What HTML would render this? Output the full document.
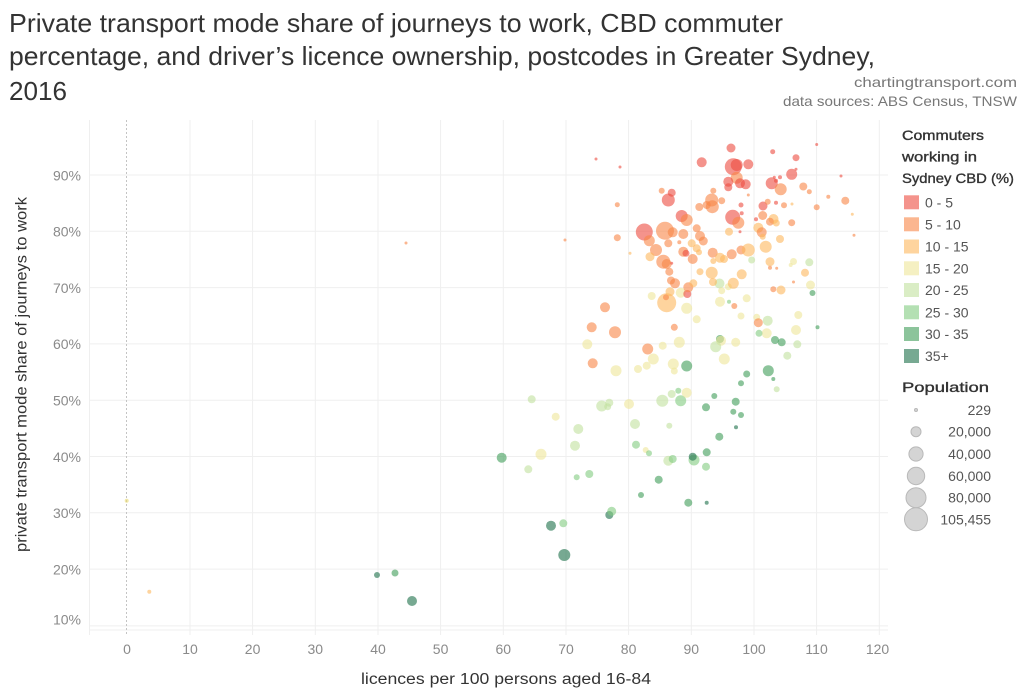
<!DOCTYPE html>
<html><head><meta charset="utf-8"><style>
html,body{margin:0;padding:0;background:#fff;}
svg{display:block;font-family:"Liberation Sans",sans-serif;}
.r{fill:#ec4b40}.o{fill:#f88646}.l{fill:#fdb85e}.y{fill:#efe69a}
.g1{fill:#c1e19e}.g2{fill:#82cb80}.g3{fill:#409c59}.g4{fill:#1c7049}
.pts circle,.sw{fill-opacity:.6}
.tk{fill:#8a8a8a;font-size:14px}
.lg{fill:#555;font-size:14px}
</style></head><body>
<svg width="1024" height="695" viewBox="0 0 1024 695" xmlns="http://www.w3.org/2000/svg">
<rect width="1024" height="695" fill="#fff"/>
<!-- title -->
<g fill="#333" font-size="26">
<text x="9" y="32" textLength="774" lengthAdjust="spacingAndGlyphs">Private transport mode share of journeys to work, CBD commuter</text>
<text x="9" y="65" textLength="866" lengthAdjust="spacingAndGlyphs">percentage, and driver’s licence ownership, postcodes in Greater Sydney,</text>
<text x="9" y="100" textLength="58" lengthAdjust="spacingAndGlyphs">2016</text>
</g>
<g fill="#777" font-size="14" text-anchor="end">
<text x="1017" y="87" textLength="163" lengthAdjust="spacingAndGlyphs">chartingtransport.com</text>
<text x="1017" y="106" textLength="234" lengthAdjust="spacingAndGlyphs">data sources: ABS Census, TNSW</text>
</g>
<!-- grid -->
<g stroke="#efefef" stroke-width="1" fill="none">
<line x1="89" y1="175" x2="888" y2="175"/>
<line x1="89" y1="231.3" x2="888" y2="231.3"/>
<line x1="89" y1="287.6" x2="888" y2="287.6"/>
<line x1="89" y1="343.9" x2="888" y2="343.9"/>
<line x1="89" y1="400.2" x2="888" y2="400.2"/>
<line x1="89" y1="456.5" x2="888" y2="456.5"/>
<line x1="89" y1="512.8" x2="888" y2="512.8"/>
<line x1="89" y1="569.1" x2="888" y2="569.1"/>
<line x1="89" y1="625.9" x2="888" y2="625.9"/>
<line x1="89" y1="630" x2="888" y2="630"/>
<line x1="89.5" y1="120" x2="89.5" y2="635"/>
<line x1="190" y1="120" x2="190" y2="635"/>
<line x1="252.6" y1="120" x2="252.6" y2="635"/>
<line x1="315.3" y1="120" x2="315.3" y2="635"/>
<line x1="378" y1="120" x2="378" y2="635"/>
<line x1="440.6" y1="120" x2="440.6" y2="635"/>
<line x1="503.3" y1="120" x2="503.3" y2="635"/>
<line x1="566" y1="120" x2="566" y2="635"/>
<line x1="628.6" y1="120" x2="628.6" y2="635"/>
<line x1="691.3" y1="120" x2="691.3" y2="635"/>
<line x1="754" y1="120" x2="754" y2="635"/>
<line x1="816.6" y1="120" x2="816.6" y2="635"/>
<line x1="879.3" y1="120" x2="879.3" y2="635"/>
</g>
<line x1="126.5" y1="120" x2="126.5" y2="635" stroke="#c4c4c4" stroke-width="1" stroke-dasharray="2,2"/>
<!-- y ticks -->
<g class="tk" text-anchor="end">
<text x="81" y="180.5">90%</text>
<text x="81" y="236.5">80%</text>
<text x="81" y="293">70%</text>
<text x="81" y="349">60%</text>
<text x="81" y="405.5">50%</text>
<text x="81" y="462">40%</text>
<text x="81" y="518">30%</text>
<text x="81" y="574.5">20%</text>
<text x="81" y="624.5">10%</text>
</g>
<!-- x ticks -->
<g class="tk" text-anchor="middle">
<text x="127" y="654">0</text>
<text x="190" y="654">10</text>
<text x="252.6" y="654">20</text>
<text x="315.3" y="654">30</text>
<text x="378" y="654">40</text>
<text x="440.6" y="654">50</text>
<text x="503.3" y="654">60</text>
<text x="566" y="654">70</text>
<text x="628.6" y="654">80</text>
<text x="691.3" y="654">90</text>
<text x="754" y="654">100</text>
<text x="816.6" y="654">110</text>
<text x="877.5" y="654">120</text>
</g>
<text x="361" y="684" fill="#333" font-size="15.5" textLength="290" lengthAdjust="spacingAndGlyphs">licences per 100 persons aged 16-84</text>
<text transform="translate(26.5,374.5) rotate(-90)" text-anchor="middle" fill="#333" font-size="15.5" textLength="355" lengthAdjust="spacingAndGlyphs">private transport mode share of journeys to work</text>
<!-- points -->
<g class="pts">
<circle cx="126.7" cy="500.7" r="2" class="y" style="fill:#e8d870"/>
<circle cx="149.3" cy="591.7" r="2" class="l"/>
<circle cx="406" cy="243" r="1.5" class="o"/>
<circle cx="377" cy="575" r="3" class="g4"/>
<circle cx="395" cy="573" r="3.5" class="g3"/>
<circle cx="412" cy="601" r="5" class="g4"/>
<circle cx="501.7" cy="457.7" r="5" class="g3"/>
<circle cx="528.3" cy="469.3" r="4" class="g1"/>
<circle cx="531.7" cy="399.3" r="4" class="g1"/>
<circle cx="541" cy="454.3" r="5.5" class="y"/>
<circle cx="555.7" cy="416.7" r="4" class="y"/>
<circle cx="551" cy="525.7" r="5" class="g4"/>
<circle cx="563.3" cy="523.3" r="4" class="g2"/>
<circle cx="564.3" cy="555" r="6" class="g4"/>
<circle cx="565" cy="240" r="1.5" class="o"/>
<circle cx="575" cy="445.7" r="5" class="g1"/>
<circle cx="578.3" cy="429" r="5" class="g1"/>
<circle cx="576.7" cy="477.3" r="3" class="g2"/>
<circle cx="589.3" cy="474" r="4" class="g2"/>
<circle cx="596" cy="159" r="1.5" class="r"/>
<circle cx="620" cy="167" r="1.5" class="r"/>
<circle cx="617.3" cy="204.7" r="2.5" class="o"/>
<circle cx="617.3" cy="237.7" r="3.5" class="o"/>
<circle cx="605" cy="307.3" r="5" class="o"/>
<circle cx="591.7" cy="327.3" r="5" class="o"/>
<circle cx="615" cy="332.3" r="6" class="o"/>
<circle cx="587.3" cy="344.3" r="5" class="y"/>
<circle cx="592.7" cy="363.3" r="5" class="o"/>
<circle cx="616" cy="370.7" r="5.5" class="y"/>
<circle cx="601.7" cy="406" r="5.5" class="g1"/>
<circle cx="609.3" cy="402.7" r="4" class="g1"/>
<circle cx="607.7" cy="406.7" r="3.5" class="g1"/>
<circle cx="629" cy="404" r="5" class="y"/>
<circle cx="609.3" cy="515" r="4" class="g4"/>
<circle cx="611.7" cy="511.3" r="4.5" class="g2"/>
<circle cx="635" cy="424" r="5" class="g1"/>
<circle cx="636" cy="444.7" r="4" class="g2"/>
<circle cx="641" cy="495" r="3" class="g3"/>
<circle cx="645.7" cy="450" r="3" class="y"/>
<circle cx="649" cy="453.3" r="3" class="g2"/>
<circle cx="646.7" cy="365.7" r="4" class="y"/>
<circle cx="638" cy="369" r="4" class="y"/>
<circle cx="653.3" cy="359" r="5.5" class="y"/>
<circle cx="647.7" cy="349" r="5.5" class="o"/>
<circle cx="662.7" cy="345.7" r="4" class="y"/>
<circle cx="674.3" cy="327.3" r="3.5" class="o"/>
<circle cx="679.3" cy="342.3" r="5.5" class="y"/>
<circle cx="673.3" cy="364" r="5.5" class="y"/>
<circle cx="674.3" cy="371" r="3.5" class="y"/>
<circle cx="686.7" cy="366" r="5.5" class="g3"/>
<circle cx="696.7" cy="319.3" r="4" class="y"/>
<circle cx="686.7" cy="308.3" r="5.5" class="y"/>
<circle cx="666.7" cy="302.7" r="9.5" class="l"/>
<circle cx="666" cy="297.3" r="3" class="o"/>
<circle cx="651.7" cy="296" r="4" class="y"/>
<circle cx="670" cy="291.7" r="4.5" class="l"/>
<circle cx="680.7" cy="292.7" r="5" class="y"/>
<circle cx="687.3" cy="294" r="4" class="r"/>
<circle cx="688.3" cy="287.3" r="5" class="o"/>
<circle cx="693.3" cy="283.3" r="4" class="l"/>
<circle cx="675" cy="283.3" r="5" class="o"/>
<circle cx="671" cy="280.5" r="4" class="o"/>
<circle cx="700" cy="271.7" r="3.5" class="l"/>
<circle cx="711.7" cy="272.7" r="6" class="l"/>
<circle cx="719.5" cy="283.5" r="5" class="g1"/>
<circle cx="713" cy="282" r="4" class="l"/>
<circle cx="728.3" cy="286.7" r="3.5" class="y"/>
<circle cx="733.3" cy="283.3" r="5.5" class="l"/>
<circle cx="721.7" cy="290.7" r="3.5" class="y"/>
<circle cx="720" cy="301.7" r="5" class="y"/>
<circle cx="729" cy="301.7" r="2" class="g2"/>
<circle cx="734.3" cy="306" r="3" class="o"/>
<circle cx="746.7" cy="298.3" r="4" class="y"/>
<circle cx="741.7" cy="274.3" r="5" class="l"/>
<circle cx="741" cy="316" r="3.5" class="y"/>
<circle cx="756.7" cy="317.3" r="3.5" class="y"/>
<circle cx="758.3" cy="322.7" r="4.5" class="o"/>
<circle cx="767.7" cy="320.7" r="5" class="g1"/>
<circle cx="798.3" cy="315" r="4" class="y"/>
<circle cx="766.7" cy="333.3" r="5" class="y"/>
<circle cx="759" cy="333.3" r="3.5" class="g2"/>
<circle cx="796" cy="330" r="5" class="y"/>
<circle cx="817.5" cy="327.3" r="2" class="g3"/>
<circle cx="720" cy="339" r="4" class="g3"/>
<circle cx="721" cy="340.7" r="5" class="y"/>
<circle cx="715.7" cy="346.7" r="5.5" class="g1"/>
<circle cx="735.7" cy="342.3" r="4.5" class="y"/>
<circle cx="724.3" cy="359" r="5.5" class="y"/>
<circle cx="775" cy="340" r="4" class="g3"/>
<circle cx="781.7" cy="342.3" r="4" class="g3"/>
<circle cx="797.3" cy="344.3" r="4" class="g1"/>
<circle cx="787.3" cy="355.7" r="4" class="g1"/>
<circle cx="768.3" cy="370.7" r="5.5" class="g3"/>
<circle cx="773.3" cy="379" r="2" class="g3"/>
<circle cx="746.7" cy="374" r="3.5" class="g3"/>
<circle cx="741" cy="383.3" r="3" class="g3"/>
<circle cx="776.7" cy="389.3" r="3" class="g1"/>
<circle cx="662.3" cy="400.7" r="6" class="g1"/>
<circle cx="671.7" cy="394" r="4" class="g1"/>
<circle cx="678.3" cy="390.7" r="3" class="g2"/>
<circle cx="680.7" cy="400.7" r="5.5" class="g2"/>
<circle cx="686.7" cy="392.7" r="5" class="y"/>
<circle cx="714.3" cy="396" r="3" class="g3"/>
<circle cx="706" cy="407.3" r="4" class="g3"/>
<circle cx="735.7" cy="401.7" r="4" class="g3"/>
<circle cx="733.3" cy="411.7" r="3" class="g3"/>
<circle cx="741" cy="415" r="3" class="g3"/>
<circle cx="736" cy="427.3" r="2" class="g4"/>
<circle cx="719.3" cy="436.7" r="4" class="g3"/>
<circle cx="669.3" cy="425.7" r="3" class="g1"/>
<circle cx="668.3" cy="460.7" r="5" class="g1"/>
<circle cx="672.7" cy="459" r="4" class="g2"/>
<circle cx="694" cy="460" r="5.5" class="g2"/>
<circle cx="692.7" cy="456.7" r="4" class="g4"/>
<circle cx="706.7" cy="452.3" r="4" class="g3"/>
<circle cx="706" cy="466.7" r="4" class="g2"/>
<circle cx="658.7" cy="479.7" r="4" class="g3"/>
<circle cx="688.3" cy="502.7" r="4" class="g3"/>
<circle cx="706.7" cy="502.7" r="2" class="g4"/>
<circle cx="731" cy="148" r="4.5" class="r"/>
<circle cx="772.7" cy="151.7" r="2.5" class="r"/>
<circle cx="816.7" cy="144.5" r="1.5" class="r"/>
<circle cx="701.7" cy="162.3" r="5" class="r"/>
<circle cx="733.3" cy="166.7" r="8.5" class="r"/>
<circle cx="736.7" cy="165" r="6" class="r"/>
<circle cx="748.3" cy="164.3" r="5" class="r"/>
<circle cx="796" cy="157.7" r="3.5" class="r"/>
<circle cx="791.7" cy="174.3" r="5.5" class="r"/>
<circle cx="796" cy="169.3" r="1.5" class="r"/>
<circle cx="841" cy="176" r="1.5" class="r"/>
<circle cx="736.7" cy="177.7" r="6" class="o"/>
<circle cx="728.3" cy="181.7" r="5" class="r"/>
<circle cx="728.3" cy="187.3" r="4" class="r"/>
<circle cx="740" cy="183.3" r="5" class="r"/>
<circle cx="745.7" cy="184.3" r="5" class="r"/>
<circle cx="771.7" cy="183.3" r="6" class="r"/>
<circle cx="780.7" cy="189.3" r="6" class="o"/>
<circle cx="780" cy="177.3" r="2" class="r"/>
<circle cx="774.3" cy="177.3" r="1.5" class="r"/>
<circle cx="776" cy="180.7" r="2" class="r"/>
<circle cx="803.3" cy="186.5" r="4" class="o"/>
<circle cx="809.3" cy="191.7" r="2.5" class="o"/>
<circle cx="828.3" cy="196.7" r="2" class="o"/>
<circle cx="845.3" cy="200.7" r="4" class="o"/>
<circle cx="852.3" cy="214.3" r="1.5" class="l"/>
<circle cx="854" cy="235.3" r="1.5" class="o"/>
<circle cx="661.7" cy="190.7" r="3" class="o"/>
<circle cx="671.7" cy="192.7" r="4" class="r"/>
<circle cx="668.3" cy="200" r="6.5" class="r"/>
<circle cx="713.3" cy="190.7" r="3" class="o"/>
<circle cx="711.7" cy="200" r="6.5" class="o"/>
<circle cx="712.3" cy="206.7" r="6.5" class="o"/>
<circle cx="706.7" cy="205" r="4" class="o"/>
<circle cx="721.7" cy="200.7" r="3.5" class="o"/>
<circle cx="699.3" cy="207" r="4" class="o"/>
<circle cx="748.3" cy="195" r="1.5" class="o"/>
<circle cx="741" cy="205" r="2.5" class="r"/>
<circle cx="763" cy="206" r="4.5" class="r"/>
<circle cx="767.7" cy="201.7" r="3" class="o"/>
<circle cx="776" cy="202.7" r="2" class="r"/>
<circle cx="784" cy="205.3" r="3" class="o"/>
<circle cx="792" cy="204" r="1.5" class="l"/>
<circle cx="816.7" cy="207.3" r="3" class="o"/>
<circle cx="681.7" cy="216" r="6" class="r"/>
<circle cx="686.7" cy="220" r="6" class="o"/>
<circle cx="732.7" cy="217.3" r="7.5" class="r"/>
<circle cx="738.3" cy="222.7" r="6" class="o"/>
<circle cx="741.7" cy="213.3" r="2" class="r"/>
<circle cx="756" cy="219.3" r="2" class="r"/>
<circle cx="762.7" cy="215.5" r="4.5" class="o"/>
<circle cx="773.5" cy="219" r="5" class="l"/>
<circle cx="770" cy="221.7" r="4" class="o"/>
<circle cx="776.3" cy="223" r="3.5" class="l"/>
<circle cx="791.7" cy="222.7" r="3.5" class="o"/>
<circle cx="644.3" cy="232" r="8.5" class="r"/>
<circle cx="665" cy="230.7" r="9" class="o"/>
<circle cx="672.7" cy="232.3" r="5" class="o"/>
<circle cx="683.3" cy="234" r="5" class="o"/>
<circle cx="696.7" cy="228.3" r="4" class="o"/>
<circle cx="700" cy="236" r="5" class="o"/>
<circle cx="703.3" cy="241" r="4.5" class="o"/>
<circle cx="649.3" cy="240.7" r="5.5" class="o"/>
<circle cx="668.3" cy="243.3" r="4" class="o"/>
<circle cx="679.3" cy="242.3" r="2" class="o"/>
<circle cx="656" cy="250" r="6" class="o"/>
<circle cx="650" cy="256.7" r="4.5" class="l"/>
<circle cx="663.3" cy="261.7" r="7" class="o"/>
<circle cx="666.7" cy="264" r="5" class="o"/>
<circle cx="669.3" cy="271.7" r="4" class="o"/>
<circle cx="683.3" cy="251.7" r="5" class="o"/>
<circle cx="686" cy="253.3" r="3.5" class="r"/>
<circle cx="692.7" cy="259" r="5" class="o"/>
<circle cx="691.7" cy="243.3" r="4" class="l"/>
<circle cx="696.7" cy="248.3" r="4" class="l"/>
<circle cx="699" cy="252.3" r="3" class="l"/>
<circle cx="712.7" cy="252.7" r="5" class="o"/>
<circle cx="720" cy="257.7" r="5" class="l"/>
<circle cx="713.3" cy="261" r="3" class="l"/>
<circle cx="724" cy="259" r="4" class="l"/>
<circle cx="731.7" cy="254.3" r="5" class="o"/>
<circle cx="741" cy="250" r="4.5" class="o"/>
<circle cx="748.3" cy="250" r="6.5" class="l"/>
<circle cx="729" cy="231.7" r="4" class="l"/>
<circle cx="758.3" cy="227.7" r="5" class="l"/>
<circle cx="761.7" cy="232.3" r="5" class="o"/>
<circle cx="762.7" cy="236.7" r="3" class="l"/>
<circle cx="765.7" cy="246.7" r="6" class="l"/>
<circle cx="780" cy="239" r="4" class="l"/>
<circle cx="740" cy="231.7" r="1.5" class="r"/>
<circle cx="751.7" cy="260" r="3.5" class="g1"/>
<circle cx="770" cy="261.7" r="4.5" class="l"/>
<circle cx="770" cy="267.7" r="2" class="o"/>
<circle cx="776.7" cy="268.3" r="1.5" class="o"/>
<circle cx="793.5" cy="261.5" r="3.5" class="y"/>
<circle cx="790.7" cy="265" r="2" class="y"/>
<circle cx="809.3" cy="262.3" r="4" class="g1"/>
<circle cx="805" cy="272.7" r="4" class="l"/>
<circle cx="793.5" cy="282" r="1.5" class="o"/>
<circle cx="671.7" cy="263.3" r="1.5" class="r"/>
<circle cx="630" cy="253.3" r="1.5" class="l"/>
<circle cx="773.3" cy="289.3" r="3" class="o"/>
<circle cx="781" cy="290" r="4.5" class="l"/>
<circle cx="812.5" cy="293" r="3" class="g3"/>
<circle cx="810.5" cy="285" r="4.5" class="y"/>
</g>
<!-- colour legend -->
<g fill="#333" font-size="14" stroke="#333" stroke-width="0.35">
<text x="902" y="140" textLength="82" lengthAdjust="spacingAndGlyphs">Commuters</text>
<text x="902" y="161.5" textLength="75" lengthAdjust="spacingAndGlyphs">working in</text>
<text x="902" y="183" textLength="112" lengthAdjust="spacingAndGlyphs">Sydney CBD (%)</text>
<text x="902" y="392" textLength="87" lengthAdjust="spacingAndGlyphs">Population</text>
</g>
<rect class="sw r" x="904" y="195.3" width="15" height="14"/>
<rect class="sw o" x="904" y="217.3" width="15" height="14"/>
<rect class="sw l" x="904" y="239.5" width="15" height="14"/>
<rect class="sw y" x="904" y="261.3" width="15" height="14"/>
<rect class="sw g1" x="904" y="283" width="15" height="14"/>
<rect class="sw g2" x="904" y="305.3" width="15" height="14"/>
<rect class="sw g3" x="904" y="327" width="15" height="14"/>
<rect class="sw g4" x="904" y="349" width="15" height="14"/>
<g class="lg">
<text x="925" y="207.3">0 - 5</text>
<text x="925" y="229.3">5 - 10</text>
<text x="925" y="251.5">10 - 15</text>
<text x="925" y="273.3">15 - 20</text>
<text x="925" y="295">20 - 25</text>
<text x="925" y="317.3">25 - 30</text>
<text x="925" y="339">30 - 35</text>
<text x="925" y="361">35+</text>
</g>
<!-- size legend -->
<g fill="#d4d4d4" stroke="#b9b9b9" stroke-width="1">
<circle cx="916" cy="410" r="1.5"/>
<circle cx="916" cy="431.7" r="5"/>
<circle cx="916" cy="454" r="7.1"/>
<circle cx="916" cy="476" r="8.7"/>
<circle cx="916" cy="497.7" r="10"/>
<circle cx="916" cy="519.3" r="11.5"/>
</g>
<g class="lg" text-anchor="end">
<text x="991" y="415">229</text>
<text x="991" y="436.7">20,000</text>
<text x="991" y="459">40,000</text>
<text x="991" y="481">60,000</text>
<text x="991" y="502.7">80,000</text>
<text x="991" y="524.3">105,455</text>
</g>
</svg>
</body></html>
